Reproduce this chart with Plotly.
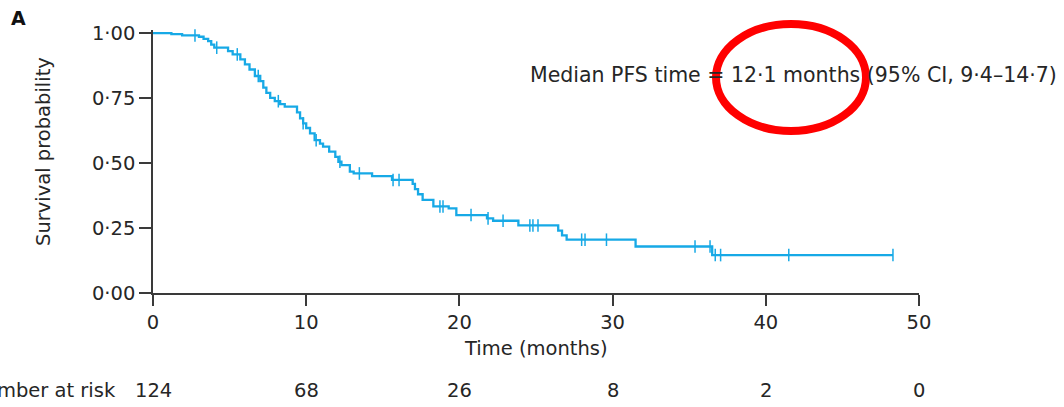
import numpy as np
import plotly.graph_objects as go

# Kaplan-Meier estimate for progression-free survival (step changes)
event_times = [0, 1.2, 1.9, 3.0, 3.3, 3.6, 3.8, 4.0, 4.9, 5.2, 5.7, 6.0, 6.3, 6.65,
               7.0, 7.2, 7.4, 7.65, 7.95, 8.3, 8.6, 9.4, 9.6, 9.8, 10.0, 10.25,
               10.55, 10.9, 11.1, 11.5, 11.9, 12.1, 12.3, 12.85, 13.1, 14.3, 15.6,
               16.95, 17.1, 17.3, 17.6, 18.3, 19.3, 19.8, 21.8, 22.2, 23.85, 26.45,
               26.7, 27.0, 31.5, 36.5]
survival = [1.0, 0.996, 0.991, 0.986, 0.978, 0.969, 0.956, 0.944, 0.931, 0.918,
            0.899, 0.88, 0.86, 0.835, 0.815, 0.79, 0.77, 0.751, 0.738, 0.727,
            0.717, 0.695, 0.672, 0.653, 0.635, 0.614, 0.588, 0.575, 0.563, 0.544,
            0.524, 0.505, 0.492, 0.467, 0.46, 0.45, 0.435, 0.42, 0.40, 0.38,
            0.358, 0.333, 0.326, 0.30, 0.287, 0.278, 0.26, 0.24, 0.222, 0.205,
            0.179, 0.146]
follow_up_end = 48.3

# Censored observations (months)
censor_times = [2.74, 4.16, 5.5, 6.87, 8.18, 9.8, 10.65, 12.2, 13.47, 15.67, 16.06,
                18.73, 18.93, 20.76, 21.87, 22.85, 24.6, 24.8, 25.13, 27.98, 28.2,
                29.6, 35.38, 36.36, 36.7, 37.05, 41.5, 48.3]

# Number at risk table
risk_times = [0, 10, 20, 30, 40, 50]
risk_counts = [124, 68, 26, 8, 2, 0]

x_ticks = [0, 10, 20, 30, 40, 50]
y_ticks = [0, 0.25, 0.5, 0.75, 1.0]
y_tick_text = ["0·00", "0·25", "0·50", "0·75", "1·00"]

BLUE = "#17a9e6"
AXIS = "#3a3a3a"
TEXT = "#262626"
FONT = "DejaVu Sans"
FS = 19.5

# survival value in effect at each censoring time
ev = np.array(event_times)
sv = np.array(survival)
censor_surv = sv[np.searchsorted(ev, np.array(censor_times), side="right") - 1]

fig = go.Figure()
fig.add_trace(go.Scatter(
    x=event_times + [follow_up_end], y=survival + [survival[-1]],
    mode="lines", line=dict(color=BLUE, width=2.3, shape="hv"),
    hoverinfo="skip", showlegend=False))
fig.add_trace(go.Scatter(
    x=censor_times, y=censor_surv, mode="markers",
    marker=dict(symbol="line-ns", size=9, line=dict(color=BLUE, width=1.5)),
    cliponaxis=False, showlegend=False))

# plot area: left 153, right 919, top 30, bottom 293 (pixels)
L, R, T, B = 153, 145, 30, 114
W, H = 1064, 407
pw, ph = W - L - R, H - T - B


def px_x(p):
    return (p - L) / pw


def px_y(p):
    return (H - B - p) / ph


fig.update_layout(
    width=W, height=H,
    margin=dict(l=L, r=R, t=T, b=B),
    plot_bgcolor="white", paper_bgcolor="white",
    font=dict(family=FONT, size=FS, color=TEXT),
    xaxis=dict(range=[0, 50], tickvals=x_ticks, showgrid=False, zeroline=False,
               showline=True, linecolor=AXIS, linewidth=1.6,
               ticks="outside", ticklen=11, tickwidth=1.6, tickcolor=AXIS,
               tickfont=dict(family=FONT, size=FS, color=TEXT)),
    yaxis=dict(range=[0, 1.012], tickvals=y_ticks, ticktext=y_tick_text,
               showgrid=False, zeroline=False,
               showline=True, linecolor=AXIS, linewidth=1.6,
               ticks="outside", ticklen=12, tickwidth=1.6, tickcolor=AXIS,
               tickfont=dict(family=FONT, size=FS, color=TEXT)),
)

annotations = [
    dict(text="Time (months)", x=px_x(536), y=px_y(348), xref="paper", yref="paper",
         showarrow=False, xanchor="center", yanchor="middle"),
    dict(text="Survival probability", x=px_x(43), y=px_y(152), xref="paper",
         yref="paper", showarrow=False, textangle=-90, xanchor="center",
         yanchor="middle"),
    dict(text="<b>A</b>", x=px_x(9), y=px_y(18), xref="paper", yref="paper",
         showarrow=False, xanchor="left", yanchor="middle",
         font=dict(family=FONT, size=19, color="#111")),
    dict(text="Number at risk", x=px_x(118), y=px_y(390), xref="paper",
         yref="paper", showarrow=False, xanchor="right", yanchor="middle"),
    dict(text="Median PFS time = 12·1 months (95% CI, 9·4–14·7)",
         x=px_x(1059), y=px_y(75), xref="paper", yref="paper",
         showarrow=False, xanchor="right", yanchor="middle",
         font=dict(family=FONT, size=20.5, color=TEXT)),
]
for t, n in zip(risk_times, risk_counts):
    annotations.append(dict(text=str(n), x=t, y=px_y(390), xref="x", yref="paper",
                            showarrow=False, xanchor="center", yanchor="middle"))
fig.update_layout(annotations=annotations)

# red highlight ring around the median
fig.add_shape(type="circle", xref="paper", yref="paper",
              x0=px_x(716), x1=px_x(866), y0=px_y(131), y1=px_y(24),
              line=dict(color="#ff0000", width=8))

fig.write_html("out.html")
